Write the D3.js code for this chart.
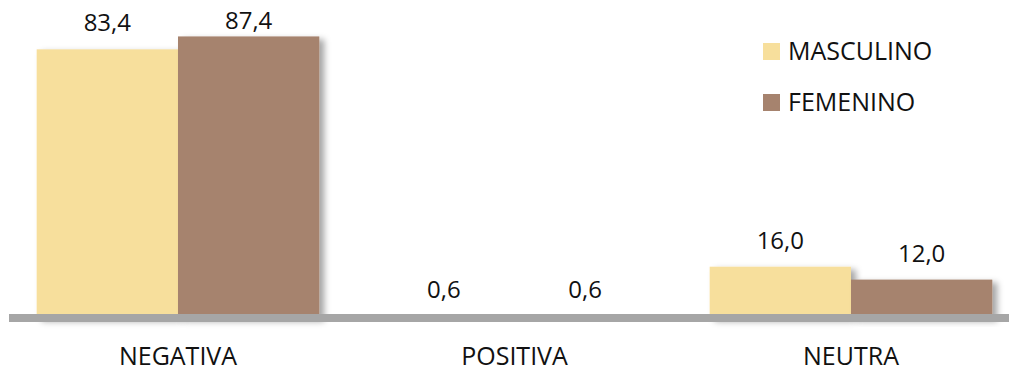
<!DOCTYPE html>
<html>
<head>
<meta charset="utf-8">
<script src="https://cdn.jsdelivr.net/npm/d3@7"></script>
<style>
  html, body { margin: 0; padding: 0; background: #fff; }
  svg { display: block; }
  text { font-family: "Open Sans", "Noto Sans", sans-serif; fill: #111; }
</style>
</head>
<body>
<svg id="chart" width="1009" height="371"></svg>
<script>
const categories = ["NEGATIVA", "POSITIVA", "NEUTRA"];
const seriesNames = ["MASCULINO", "FEMENINO"];
const masculino = [83.4, 0.6, 16.0];
const femenino = [87.4, 0.6, 12.0];
const seriesColors = ["#F7DF9C", "#A6836E"];

const svg = d3.select("#chart");
const W = 1009, H = 371;

const defs = svg.append("defs");
const f = defs.append("filter").attr("id", "shadow")
  .attr("x", "-10%").attr("y", "-10%").attr("width", "130%").attr("height", "130%");
f.append("feDropShadow").attr("dx", 5).attr("dy", 3).attr("stdDeviation", 3)
  .attr("flood-color", "#000").attr("flood-opacity", 0.35);

const x0 = d3.scaleBand().domain(categories).range([9.75, 1019.25])
  .paddingInner(0.16).paddingOuter(0.08);
const x1 = d3.scaleBand().domain(seriesNames).range([0, x0.bandwidth()]);
const y = d3.scaleLinear().domain([0, 87.4]).range([318.3, 318.3 - 87.4 * 3.225]);

const data = categories.map((c, i) => ({
  cat: c,
  vals: [masculino[i], femenino[i]]
}));

const groups = svg.append("g").selectAll("g").data(data).join("g")
  .attr("transform", d => `translate(${x0(d.cat)},0)`);

groups.selectAll("rect").data(d => d.vals.map((v, j) => ({ v, s: seriesNames[j], j })))
  .join("rect")
  .attr("x", d => x1(d.s))
  .attr("width", x1.bandwidth())
  .attr("y", d => y(d.v))
  .attr("height", d => y(0) - y(d.v))
  .attr("fill", d => seriesColors[d.j])
  .attr("filter", "url(#shadow)");

groups.selectAll("text.val").data(d => d.vals.map((v, j) => ({ v, s: seriesNames[j], j })))
  .join("text").attr("class", "val")
  .attr("x", d => x1(d.s) + x1.bandwidth() / 2)
  .attr("y", d => Math.max(y(d.v) - 18, 29))
  .attr("text-anchor", "middle")
  .attr("font-size", 24)
  .text(d => d3.format(".1f")(d.v).replace(".", ","));

// baseline
svg.append("line").attr("x1", 9).attr("x2", W).attr("y1", 318).attr("y2", 318)
  .attr("stroke", "#A6A6A6").attr("stroke-width", 8);

// category axis labels
const xAxis = d3.axisBottom(x0).tickSize(0).tickPadding(0);
const ax = svg.append("g").attr("transform", "translate(0,365)").call(xAxis);
ax.select(".domain").remove();
ax.selectAll("text").attr("font-size", 25).attr("dy", null).attr("y", 0)
  .style("font-family", "'Open Sans', sans-serif").attr("fill", "#111");

// legend
const legend = svg.append("g").selectAll("g").data(seriesNames).join("g")
  .attr("transform", (d, i) => `translate(763,${43 + i * 51})`);
legend.append("rect").attr("width", 17).attr("height", 17)
  .attr("fill", (d, i) => seriesColors[i]);
legend.append("text").attr("x", 25).attr("y", 17)
  .attr("font-size", 25).text(d => d);
</script>
</body>
</html>
